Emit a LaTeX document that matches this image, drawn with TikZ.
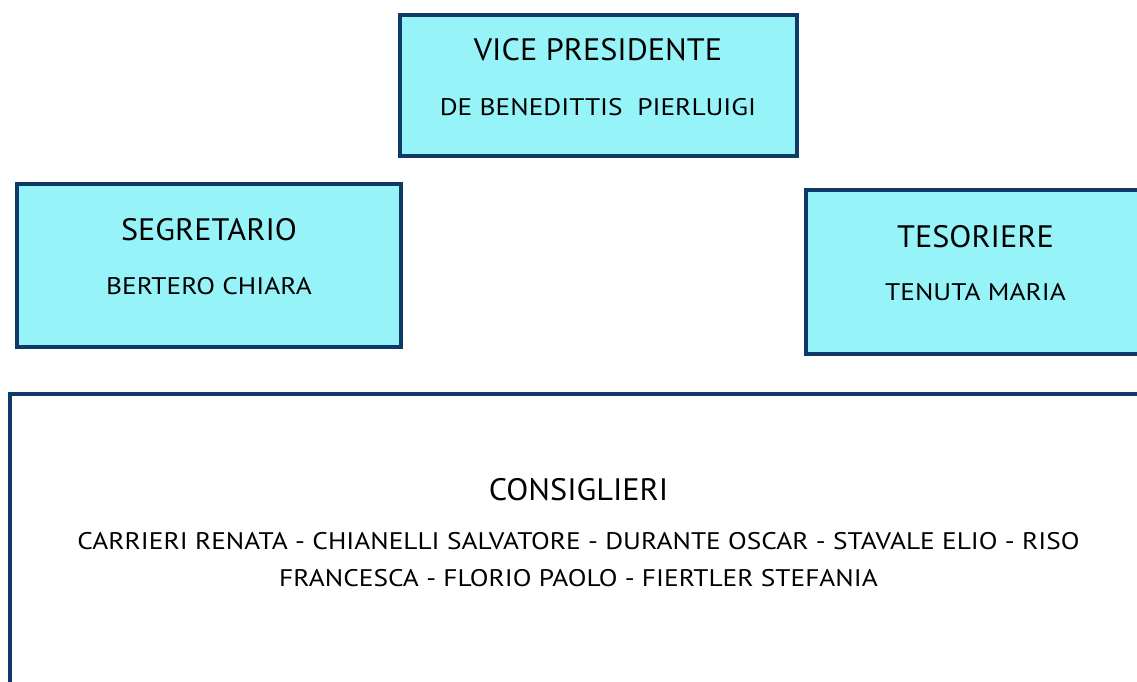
\documentclass[tikz,border=0pt]{standalone}
\usepackage{fontspec}
\setmainfont{PT Sans}
\newfontfamily\titleFont[FakeStretch=1.04]{PT Sans}
\newfontfamily\nameFont[FakeStretch=1.14]{PT Sans}
\usetikzlibrary{positioning,calc}
\definecolor{boxFill}{RGB}{150,244,249}
\definecolor{boxLine}{RGB}{14,58,104}
\tikzstyle{roleBox}  =[draw=boxLine,line width=4pt,fill=boxFill,rectangle,inner sep=0pt]
\tikzstyle{plainBox} =[draw=boxLine,line width=4pt,fill=white,rectangle,inner sep=0pt]
\tikzstyle{roleTitle}=[anchor=base,inner sep=0pt,font=\titleFont\fontsize{31}{36}\selectfont]
\tikzstyle{roleName} =[anchor=base,inner sep=0pt,font=\nameFont\fontsize{24}{37}\selectfont]

\begin{document}
\begin{tikzpicture}[x=1pt,y={(0pt,-1pt)}]
\useasboundingbox (0,0) rectangle (1137,681);
\clip (0,0) rectangle (1137,681);
% boxes
\node [roleBox,minimum width=397.5pt,minimum height=141pt] (vp)  at (598.25,85) {};
\node [roleBox,minimum width=383.5pt,minimum height=163pt] (seg) at (209,265.5) {};
\node [roleBox,minimum width=340pt,minimum height=163.4pt] (tes) at (975.5,272) {};
\node [plainBox,minimum width=1138pt,minimum height=340pt] (cons) at (578.5,563.8) {};
% texts
\node [roleTitle] (vpTitle)   at (598,60)  {VICE PRESIDENTE};
\node [roleName]  (vpName)    at (598,115) {DE BENEDITTIS\ \ PIERLUIGI};
\node [roleTitle] (segTitle)  at (209,240) {SEGRETARIO};
\node [roleName]  (segName)   at (209,294) {BERTERO CHIARA};
\node [roleTitle] (tesTitle)  at (975.5,247) {TESORIERE};
\node [roleName]  (tesName)   at (975.5,300) {TENUTA MARIA};
\node [roleTitle] (consTitle) at (578.5,500) {CONSIGLIERI};
\node [roleName]  (consName1) at (578.5,549) {CARRIERI RENATA - CHIANELLI SALVATORE - DURANTE OSCAR - STAVALE ELIO - RISO};
\node [roleName]  (consName2) at (578.5,586) {FRANCESCA - FLORIO PAOLO - FIERTLER STEFANIA};
\end{tikzpicture}
\end{document}
